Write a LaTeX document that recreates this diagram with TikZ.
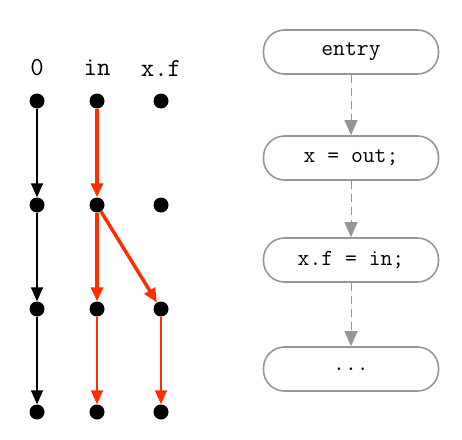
\documentclass[tikz,border=0pt]{standalone}
\usetikzlibrary{arrows.meta}
\definecolor{rouge}{RGB}{255,45,0}
\definecolor{gris}{RGB}{150,150,150}
\tikzset{
  pt/.style={circle,fill=black,inner sep=0pt,minimum size=15pt},
  nom/.style={font=\ttfamily\fontsize{26}{30}\selectfont},
  fleche/.style={line width=1.6pt,-{Triangle[length=14pt,width=12pt]}},
  rfleche/.style={fleche,draw=rouge,fill=rouge},
  rgras/.style={rfleche,line width=3.4pt},
  bloc/.style={draw=gris,line width=1.6pt,rounded corners=21pt,minimum width=175pt,minimum height=44pt,font=\ttfamily\fontsize{23}{27}\selectfont},
  flot/.style={draw=gris,fill=gris,line width=1pt,dash pattern=on 8pt off 5pt,-{Triangle[length=15pt,width=13pt]}}
}
\begin{document}
\begin{tikzpicture}[x=1pt,y=-1pt]
\useasboundingbox (0,0) rectangle (462,439);
%Variables
\node[nom] (n0) at (37,68) {0};
\node[nom] (nin) at (97,68) {in};
\node[nom] (nxf) at (161,68) {x.f};
\foreach \r/\y in {0/101,1/205,2/309,3/412}
  \foreach \c/\x in {a/37,b/97,c/161}
    \node[pt] (\c\r) at (\x,\y) {};

%Aretes
\draw[fleche] (a0) -- (a1);
\draw[fleche] (a1) -- (a2);
\draw[fleche] (a2) -- (a3);
\draw[rgras] (b0) -- (b1);
\draw[rgras] (b1) -- (b2);
\draw[rgras] (b1) -- (c2);
\draw[rfleche] (b2) -- (b3);
\draw[rfleche] (c2) -- (c3);

%Blocs
\node[bloc] (entry) at (351,52) {entry};
\node[bloc] (out) at (351,158) {x = out;};
\node[bloc] (xf) at (351,260) {x.f = in;};
\node[bloc] (fin) at (351,369) {...};
\draw[flot] (entry) -- (out);
\draw[flot] (out) -- (xf);
\draw[flot] (xf) -- (fin);
\end{tikzpicture}
\end{document}
